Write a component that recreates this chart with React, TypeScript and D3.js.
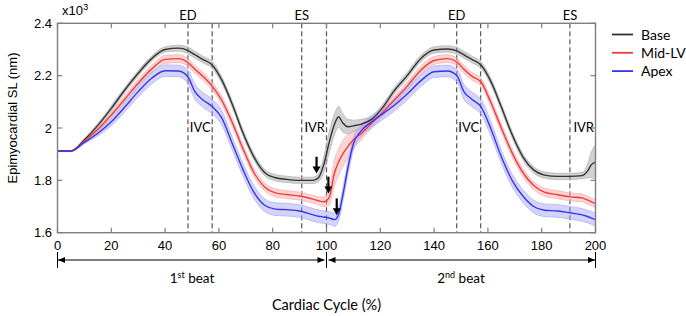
import React from 'react';
import * as d3 from 'd3';

// Cardiac cycle (%) sample positions
const T = [0, 5, 10, 15, 20, 25, 30, 35, 40, 45, 48.5, 51, 54, 57.5, 61, 65, 69, 73, 77, 81, 85, 90, 95, 97, 99, 101, 103, 104.5, 106, 108, 110, 113, 117, 121, 125, 130, 135, 140, 145, 148.5, 151, 154, 157.5, 161, 165, 169, 173, 177, 181, 186, 190.5, 195, 197, 198.5, 200];

const BASE = [1.912, 1.912, 1.955, 2.01, 2.075, 2.145, 2.209, 2.265, 2.3, 2.305, 2.296, 2.28, 2.262, 2.241, 2.185, 2.09, 1.98, 1.89, 1.83, 1.81, 1.804, 1.8, 1.8, 1.81, 1.86, 1.945, 2.015, 2.043, 2.02, 2.005, 2.008, 2.015, 2.035, 2.08, 2.14, 2.2, 2.265, 2.298, 2.302, 2.295, 2.28, 2.262, 2.24, 2.18, 2.08, 1.975, 1.89, 1.84, 1.82, 1.815, 1.815, 1.818, 1.835, 1.86, 1.87];
const BASE_SD = [0.002, 0.002, 0.004, 0.008, 0.01, 0.01, 0.01, 0.01, 0.01, 0.011, 0.013, 0.013, 0.013, 0.013, 0.012, 0.012, 0.012, 0.012, 0.012, 0.012, 0.012, 0.012, 0.012, 0.015, 0.03, 0.04, 0.04, 0.04, 0.035, 0.028, 0.022, 0.018, 0.014, 0.012, 0.012, 0.012, 0.012, 0.012, 0.012, 0.013, 0.013, 0.013, 0.013, 0.012, 0.012, 0.012, 0.012, 0.012, 0.012, 0.012, 0.012, 0.012, 0.025, 0.05, 0.065];

const MID = [1.912, 1.912, 1.95, 1.995, 2.05, 2.11, 2.171, 2.225, 2.262, 2.265, 2.25, 2.225, 2.198, 2.16, 2.107, 2.02, 1.92, 1.83, 1.775, 1.752, 1.746, 1.74, 1.728, 1.722, 1.718, 1.735, 1.83, 1.87, 1.9, 1.93, 1.955, 1.98, 2.02, 2.06, 2.105, 2.16, 2.22, 2.258, 2.265, 2.252, 2.225, 2.198, 2.175, 2.1, 2.0, 1.905, 1.83, 1.78, 1.755, 1.745, 1.737, 1.733, 1.725, 1.718, 1.712];
const MID_SD = [0.002, 0.002, 0.004, 0.008, 0.012, 0.013, 0.014, 0.015, 0.015, 0.015, 0.015, 0.015, 0.015, 0.015, 0.015, 0.015, 0.015, 0.015, 0.015, 0.015, 0.015, 0.015, 0.015, 0.015, 0.018, 0.03, 0.05, 0.05, 0.05, 0.045, 0.035, 0.025, 0.018, 0.015, 0.015, 0.015, 0.015, 0.015, 0.015, 0.015, 0.015, 0.015, 0.015, 0.015, 0.015, 0.015, 0.015, 0.015, 0.015, 0.015, 0.015, 0.015, 0.015, 0.015, 0.015];

const APEX = [1.912, 1.912, 1.945, 1.98, 2.024, 2.08, 2.139, 2.19, 2.219, 2.218, 2.195, 2.14, 2.108, 2.082, 2.04, 1.94, 1.84, 1.755, 1.705, 1.69, 1.688, 1.683, 1.668, 1.663, 1.66, 1.656, 1.65, 1.67, 1.74, 1.85, 1.94, 1.99, 2.025, 2.055, 2.085, 2.13, 2.18, 2.215, 2.218, 2.2, 2.14, 2.11, 2.08, 2.0, 1.89, 1.8, 1.74, 1.7, 1.686, 1.683, 1.676, 1.668, 1.662, 1.656, 1.65];
const APEX_SD = [0.002, 0.002, 0.005, 0.01, 0.015, 0.018, 0.02, 0.022, 0.022, 0.022, 0.026, 0.028, 0.028, 0.028, 0.027, 0.024, 0.024, 0.024, 0.024, 0.024, 0.024, 0.024, 0.024, 0.024, 0.024, 0.024, 0.025, 0.025, 0.025, 0.025, 0.024, 0.022, 0.022, 0.022, 0.022, 0.022, 0.022, 0.022, 0.022, 0.024, 0.028, 0.028, 0.028, 0.027, 0.024, 0.024, 0.024, 0.024, 0.024, 0.024, 0.024, 0.024, 0.024, 0.024, 0.024];

const SERIES_NAMES = ['Base', 'Mid-LV', 'Apex'];

const X_TICKS = [0, 20, 40, 60, 80, 100, 120, 140, 160, 180, 200];
const Y_TICKS = [1.6, 1.8, 2.0, 2.2, 2.4];

// phase event markers: position (%), label above plot, label inside plot (left of line)
const EVENT_T = [48.5, 57.5, 90.8, 100, 148.4, 157.3, 190.5, 200];
const EVENT_TOP = ['ED', '', 'ES', '', 'ED', '', 'ES', ''];
const EVENT_MID = ['', 'IVC', '', 'IVR', '', 'IVC', '', 'IVR'];

// arrows: position (%), tail value, tip value
const ARROW_T = [96.3, 100.7, 103.8];
const ARROW_TAIL = [1.89, 1.814, 1.731];
const ARROW_TIP = [1.826, 1.75, 1.667];

// beats
const BEAT_START = [0, 100];
const BEAT_END = [100, 200];
const BEAT_NUM = ['1', '2'];
const BEAT_SUP = ['st', 'nd'];

const W = 686;
const H = 316;
const L = 57.5, R = 595.5, TOP = 23.3, BOT = 232.7;

const COLORS = {
  Base: { line: '#333333', band: '#9a9a9a', edge: '#b8b8b8' },
  'Mid-LV': { line: '#f23b3b', band: '#f7a0a0', edge: '#f5b5b5' },
  Apex: { line: '#3535f0', band: '#a0a0f5', edge: '#b0b0f5' },
};

const ANN_FONT = 'Lato, "Open Sans", sans-serif';
const TICK_FONT = '"Liberation Sans", Arial, sans-serif';

export default function App() {
  const x = d3.scaleLinear().domain([0, 200]).range([L, R]);
  const y = d3.scaleLinear().domain([1.6, 2.4]).range([BOT, TOP]);

  const data = [
    { name: 'Base', v: BASE, sd: BASE_SD },
    { name: 'Mid-LV', v: MID, sd: MID_SD },
    { name: 'Apex', v: APEX, sd: APEX_SD },
  ];

  const line = d3.line<number>().x((_, i) => x(T[i])).y((d) => y(d)).curve(d3.curveMonotoneX);
  const axisColor = '#7f7f7f';

  const areaFor = (v: number[], sd: number[]) =>
    d3.area<number>()
      .x((_, i) => x(T[i]))
      .y0((d, i) => y(d - sd[i]))
      .y1((d, i) => y(d + sd[i]))
      .curve(d3.curveMonotoneX)(v) || '';

  const edge = (v: number[], sd: number[], s: number) =>
    line(v.map((d, i) => d + s * sd[i])) || '';

  const beatY = 260;

  return (
    <svg width={W} height={H} style={{ position: 'absolute', left: 0, top: 0, background: '#fff' }}>
      <defs>
        <clipPath id="plotclip">
          <rect x={L} y={TOP} width={R - L} height={BOT - TOP} />
        </clipPath>
      </defs>

      {/* event dashed lines */}
      {EVENT_T.map((t, i) =>
        t < 200 ? (
          <line key={'ev' + i} x1={x(t)} x2={x(t)} y1={TOP} y2={BOT} stroke="#555" strokeWidth={1.2} strokeDasharray="5,3" />
        ) : null
      )}

      <g clipPath="url(#plotclip)">
        {data.map((s) => {
          const c = (COLORS as any)[s.name];
          return (
            <g key={'band' + s.name}>
              <path d={areaFor(s.v, s.sd)} fill={c.band} fillOpacity={0.45} stroke="none" />
              <path d={edge(s.v, s.sd, 1)} fill="none" stroke={c.edge} strokeWidth={0.8} />
              <path d={edge(s.v, s.sd, -1)} fill="none" stroke={c.edge} strokeWidth={0.8} />
            </g>
          );
        })}
        {data.map((s) => (
          <path key={'line' + s.name} d={line(s.v) || ''} fill="none" stroke={(COLORS as any)[s.name].line} strokeWidth={1.4} />
        ))}
      </g>

      {/* arrows */}
      {ARROW_T.map((t, i) => {
        const ax = x(t);
        const y0 = y(ARROW_TAIL[i]);
        const y1 = y(ARROW_TIP[i]);
        return (
          <g key={'ar' + i}>
            <line x1={ax} x2={ax} y1={y0} y2={y1 - 6} stroke="#000" strokeWidth={2.2} />
            <path d={`M${ax - 4},${y1 - 7} L${ax + 4},${y1 - 7} L${ax},${y1} Z`} fill="#000" />
          </g>
        );
      })}

      {/* axes box */}
      <rect x={L} y={TOP} width={R - L} height={BOT - TOP} fill="none" stroke={axisColor} strokeWidth={1.4} />
      {X_TICKS.map((t) => (
        <g key={'xt' + t}>
          <line x1={x(t)} x2={x(t)} y1={BOT} y2={BOT - 5} stroke={axisColor} strokeWidth={1.2} />
          <line x1={x(t)} x2={x(t)} y1={TOP} y2={TOP + 5} stroke={axisColor} strokeWidth={1.2} />
          <text x={x(t)} y={250} textAnchor="middle" fontFamily={TICK_FONT} fontSize={13} fill="#000">
            {t}
          </text>
        </g>
      ))}
      {Y_TICKS.map((v) => (
        <g key={'yt' + v}>
          <line x1={L} x2={L + 5} y1={y(v)} y2={y(v)} stroke={axisColor} strokeWidth={1.2} />
          <line x1={R} x2={R - 5} y1={y(v)} y2={y(v)} stroke={axisColor} strokeWidth={1.2} />
          <text x={52} y={y(v) + 4.5} textAnchor="end" fontFamily={TICK_FONT} fontSize={13} fill="#000">
            {v === 2 ? '2' : v.toFixed(1)}
          </text>
        </g>
      ))}

      {/* exponent */}
      <text x={62} y={15} fontFamily={TICK_FONT} fontSize={13} fill="#000">
        x10<tspan dy={-5} fontSize={9.5}>3</tspan>
      </text>

      {/* event labels */}
      {EVENT_T.map((t, i) => (
        <g key={'evl' + i}>
          {EVENT_TOP[i] ? (
            <text x={x(t)} y={19.5} textAnchor="middle" fontFamily={ANN_FONT} fontSize={13} fill="#000">
              {EVENT_TOP[i]}
            </text>
          ) : null}
          {EVENT_MID[i] ? (
            <text x={x(t) - 1.5} y={132} textAnchor="end" fontFamily={ANN_FONT} fontSize={13} fill="#000">
              {EVENT_MID[i]}
            </text>
          ) : null}
        </g>
      ))}

      {/* legend */}
      {SERIES_NAMES.map((n, i) => (
        <g key={'lg' + n}>
          <line x1={612} x2={633} y1={34.5 + i * 18.3} y2={34.5 + i * 18.3} stroke={(COLORS as any)[n].line} strokeWidth={1.8} />
          <text x={641} y={39.5 + i * 18.3} fontFamily={ANN_FONT} fontSize={14} fill="#000">
            {n}
          </text>
        </g>
      ))}

      {/* y label */}
      <text transform={`translate(17,118) rotate(-90)`} textAnchor="middle" fontFamily={TICK_FONT} fontSize={13} fill="#000">
        Epimyocardial SL (nm)
      </text>

      {/* beats */}
      {BEAT_START.map((b, i) => {
        const x0 = x(b) + (i === 0 ? 0.5 : 2);
        const x1 = x(BEAT_END[i]) - (i === 0 ? 2 : 0.5);
        return (
          <g key={'beat' + i}>
            <line x1={x0} x2={x1} y1={beatY} y2={beatY} stroke="#000" strokeWidth={1} />
            <path d={`M${x0},${beatY} L${x0 + 7},${beatY - 3} L${x0 + 7},${beatY + 3} Z`} fill="#000" />
            <path d={`M${x1},${beatY} L${x1 - 7},${beatY - 3} L${x1 - 7},${beatY + 3} Z`} fill="#000" />
            <text x={(x(b) + x(BEAT_END[i])) / 2} y={283} textAnchor="middle" fontFamily={ANN_FONT} fontSize={13.5} fill="#000">
              {BEAT_NUM[i]}
              <tspan dy={-5} fontSize={9}>{BEAT_SUP[i]}</tspan>
              <tspan dy={5}> beat</tspan>
            </text>
          </g>
        );
      })}
      {[0, 100, 200].map((b) => (
        <line key={'bb' + b} x1={x(b)} x2={x(b)} y1={252} y2={268} stroke="#000" strokeWidth={1} />
      ))}

      <text x={x(100)} y={310} textAnchor="middle" fontFamily={ANN_FONT} fontSize={14.5} fill="#000">
        Cardiac Cycle (%)
      </text>
    </svg>
  );
}
